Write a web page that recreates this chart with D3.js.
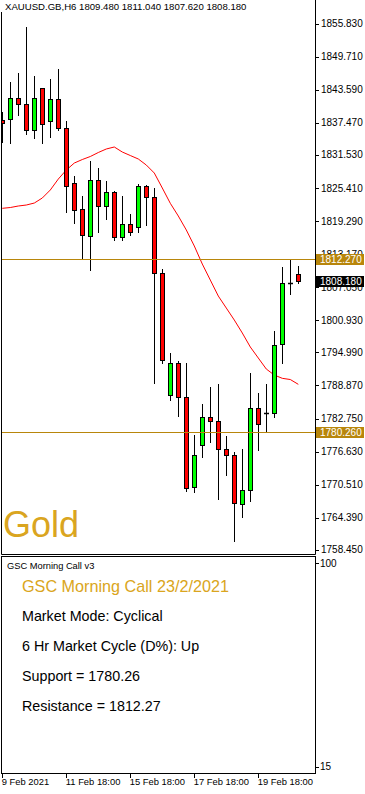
<!DOCTYPE html>
<html>
<head>
<meta charset="utf-8">
<script src="https://cdn.jsdelivr.net/npm/d3@7"></script>
<style>
  body { margin: 0; background: #fff; }
  svg { display: block; }
  text { font-family: "Liberation Sans", Arial, sans-serif; }
</style>
</head>
<body>
<div id="chart"></div>
<script>
// XAUUSD H6 candles, index 0 = 9 Feb 18:00
const opens  = [1837.99, 1838.12, 1842.01, 1840.95, 1836.09, 1843.86, 1837.68, 1841.82, 1836.46, 1826.28,
                1821.47, 1816.58, 1826.89, 1822.13, 1824.67, 1816.29, 1818.75, 1818.25, 1825.78, 1823.74,
                1809.73, 1787.05, 1792.97, 1786.68, 1770.02, 1777.79, 1782.98, 1782.24, 1777.05, 1775.94,
                1766.88, 1769.47, 1784.64, 1783.83, 1783.72, 1796.49, 1807.77, 1809.48]
const highs  = [1839.53, 1845.08, 1846.74, 1855.26, 1846.13, 1843.86, 1845.58, 1847.43, 1837.81, 1827.68,
                1823.98, 1830.46, 1829.17, 1826.70, 1824.85, 1823.98, 1820.60, 1826.06, 1825.96, 1825.35,
                1810.42, 1794.82, 1793.39, 1792.97, 1779.70, 1785.44, 1788.58, 1789.14, 1779.46, 1776.50,
                1777.11, 1791.17, 1787.47, 1789.14, 1798.95, 1810.79, 1812.27, 1811.04]
const lows   = [1833.79, 1833.55, 1838.79, 1835.22, 1834.53, 1833.55, 1834.72, 1836.01, 1820.73, 1818.80,
                1812.27, 1810.10, 1817.03, 1819.49, 1815.66, 1815.66, 1816.58, 1817.17, 1818.38, 1789.08,
                1792.78, 1786.05, 1783.09, 1769.21, 1769.02, 1775.50, 1778.28, 1767.67, 1772.17, 1759.96,
                1764.40, 1767.36, 1776.80, 1780.26, 1782.90, 1792.90, 1805.66, 1807.62]
const closes = [1837.38, 1842.01, 1840.90, 1836.14, 1842.01, 1837.20, 1841.82, 1836.46, 1825.78, 1821.21,
                1816.58, 1826.89, 1822.13, 1824.67, 1816.29, 1818.75, 1817.32, 1825.78, 1823.69, 1809.73,
                1793.71, 1792.97, 1786.68, 1769.84, 1775.94, 1782.98, 1782.24, 1777.11, 1775.94, 1767.06,
                1769.47, 1784.64, 1781.68, 1783.83, 1796.36, 1807.77, 1807.77, 1808.18]
// moving average (red line)
const maValues = [1821.65, 1821.80, 1822.08, 1822.26, 1822.63, 1823.56, 1825.04, 1827.07, 1828.74, 1830.03,
                  1830.68, 1831.24, 1831.98, 1832.63, 1833.00, 1832.07, 1831.42, 1830.78, 1829.66, 1828.18,
                  1825.41, 1822.58, 1820.23, 1817.64, 1814.68, 1811.34, 1808.38, 1805.42, 1803.20, 1800.98,
                  1798.58, 1795.99, 1793.95, 1791.91, 1790.80, 1790.19, 1789.97, 1789.08]

const priceTicks = [1855.83, 1849.71, 1843.59, 1837.47, 1831.53, 1825.41, 1819.29, 1813.17, 1807.05,
                    1800.93, 1794.99, 1788.87, 1782.75, 1776.63, 1770.51, 1764.39, 1758.45]
const timeLabels = ["9 Feb 2021", "11 Feb 18:00", "15 Feb 18:00", "17 Feb 18:00", "19 Feb 18:00"]
const timeIndex = [0, 8, 16, 24, 32]

const support = 1780.26
const resistance = 1812.27
const lastPrice = 1808.18
const header = "XAUUSD.GB,H6  1809.480 1811.040 1807.620 1808.180"

const panelName = "GSC Morning Call v3"
const panelTitle = "GSC Morning Call 23/2/2021"
const panelLines = ["Market Mode: Cyclical", "6 Hr Market Cycle (D%): Up",
                    "Support = 1780.26", "Resistance = 1812.27"]
const subTicks = [100, 15]

const width = 365, height = 794
const left = 1, right = 315
const mainTop = 0, mainBottom = 554
const subTop = 556, subBottom = 773
const gold = "#daa520"
const lineGold = "#b8860b"

const svg = d3.select("#chart").append("svg")
    .attr("width", width)
    .attr("height", height)

const x = d3.scaleLinear().domain([0, 37]).range([2.3, 298.3])
const y = d3.scaleLinear().domain([1757.50, 1859.83]).range([555, 2])
const sub = d3.scaleLinear().domain([15, 100]).range([766.5, 563])

const snap = v => Math.round(v) + 0.5

svg.append("clipPath").attr("id", "main-clip")
    .append("rect")
    .attr("x", left + 0.5).attr("y", mainTop)
    .attr("width", right - left - 0.5).attr("height", mainBottom - mainTop)

const plot = svg.append("g").attr("clip-path", "url(#main-clip)")

// moving average
plot.append("path")
    .datum(maValues)
    .attr("fill", "none")
    .attr("stroke", "#ff0000")
    .attr("stroke-width", 1)
    .attr("d", d3.line().x((d, i) => x(i)).y(d => y(d)))

// candles
const candles = plot.selectAll("g.candle")
    .data(opens.map((o, i) => ({ i, o, h: highs[i], l: lows[i], c: closes[i] })))
    .enter().append("g")

candles.append("line")
    .attr("x1", d => snap(x(d.i)))
    .attr("x2", d => snap(x(d.i)))
    .attr("y1", d => Math.round(y(d.h)))
    .attr("y2", d => Math.round(y(d.l)))
    .attr("stroke", "#000")
    .attr("stroke-width", 1)

candles.filter(d => d.o !== d.c).append("rect")
    .attr("x", d => snap(x(d.i)) - 2)
    .attr("width", 4)
    .attr("y", d => snap(y(Math.max(d.o, d.c))))
    .attr("height", d => Math.max(1, Math.round(Math.abs(y(d.o) - y(d.c)))))
    .attr("fill", d => d.c > d.o ? "#00ff00" : "#ff0000")
    .attr("stroke", "#000")
    .attr("stroke-width", 1)

candles.filter(d => d.o === d.c).append("line")
    .attr("x1", d => snap(x(d.i)) - 2.5)
    .attr("x2", d => snap(x(d.i)) + 2.5)
    .attr("y1", d => snap(y(d.o)))
    .attr("y2", d => snap(y(d.o)))
    .attr("stroke", "#000")
    .attr("stroke-width", 1.5)

// support / resistance
plot.selectAll("line.level")
    .data([resistance, support])
    .enter().append("line")
    .attr("x1", left).attr("x2", right)
    .attr("y1", d => snap(y(d)))
    .attr("y2", d => snap(y(d)))
    .attr("stroke", lineGold)
    .attr("stroke-width", 1)

// Gold label
svg.append("text")
    .attr("x", 3).attr("y", 537)
    .attr("fill", gold)
    .attr("font-size", 36)
    .text("Gold")

// header
svg.append("text")
    .attr("x", 5).attr("y", 10)
    .attr("font-size", 9.6)
    .attr("fill", "#000")
    .text(header)

// frames
svg.append("path")
    .attr("d", `M${left + 0.5},12V${mainBottom + 0.5}H${right + 0.5}V0`)
    .attr("fill", "none").attr("stroke", "#000")
svg.append("rect")
    .attr("x", left + 0.5).attr("y", subTop + 0.5)
    .attr("width", right - left).attr("height", subBottom - subTop)
    .attr("fill", "none").attr("stroke", "#000")

// price axis
const pa = svg.append("g")
pa.selectAll("line").data(priceTicks).enter().append("line")
    .attr("x1", right + 1).attr("x2", right + 4)
    .attr("y1", d => snap(y(d))).attr("y2", d => snap(y(d)))
    .attr("stroke", "#000")
pa.selectAll("text").data(priceTicks).enter().append("text")
    .attr("x", 321)
    .attr("y", d => Math.min(y(d), 550) + 3.5)
    .attr("font-size", 10)
    .text(d => d.toFixed(3))

// price boxes
const boxes = [{ v: resistance, bg: lineGold }, { v: lastPrice, bg: "#000" }, { v: support, bg: lineGold }]
const bx = svg.selectAll("g.box").data(boxes).enter().append("g")
bx.append("rect")
    .attr("x", right + 1).attr("width", 48)
    .attr("y", d => Math.round(y(d.v)) - 5).attr("height", 11)
    .attr("fill", d => d.bg)
bx.append("text")
    .attr("x", 320)
    .attr("y", d => y(d.v) + 4)
    .attr("font-size", 10)
    .attr("fill", "#fff")
    .text(d => d.v.toFixed(3))

// sub panel
svg.append("text")
    .attr("x", 7).attr("y", 569)
    .attr("font-size", 9.3)
    .text(panelName)
svg.append("text")
    .attr("x", 22).attr("y", 591.5)
    .attr("font-size", 16.2)
    .attr("fill", gold)
    .text(panelTitle)
svg.selectAll("text.line").data(panelLines).enter().append("text")
    .attr("x", 22)
    .attr("y", (d, i) => 621 + i * 29.9)
    .attr("font-size", 14.3)
    .attr("fill", "#000")
    .text(d => d)

svg.selectAll("line.subtick").data(subTicks).enter().append("line")
    .attr("x1", right + 1).attr("x2", right + 4)
    .attr("y1", d => snap(sub(d))).attr("y2", d => snap(sub(d)))
    .attr("stroke", "#000")
svg.selectAll("text.subtick").data(subTicks).enter().append("text")
    .attr("x", 320)
    .attr("y", d => sub(d) + 3.5)
    .attr("font-size", 10)
    .text(d => d)

// time axis
svg.selectAll("line.tt").data(timeIndex).enter().append("line")
    .attr("x1", d => snap(x(d) - 0.5)).attr("x2", d => snap(x(d) - 0.5))
    .attr("y1", subBottom + 1).attr("y2", subBottom + 5)
    .attr("stroke", "#000")
svg.selectAll("text.tt").data(timeIndex).enter().append("text")
    .attr("x", d => Math.max(1.5, x(d) - 0.5))
    .attr("y", 785)
    .attr("font-size", 9.4)
    .text((d, i) => timeLabels[i])
</script>
</body>
</html>
